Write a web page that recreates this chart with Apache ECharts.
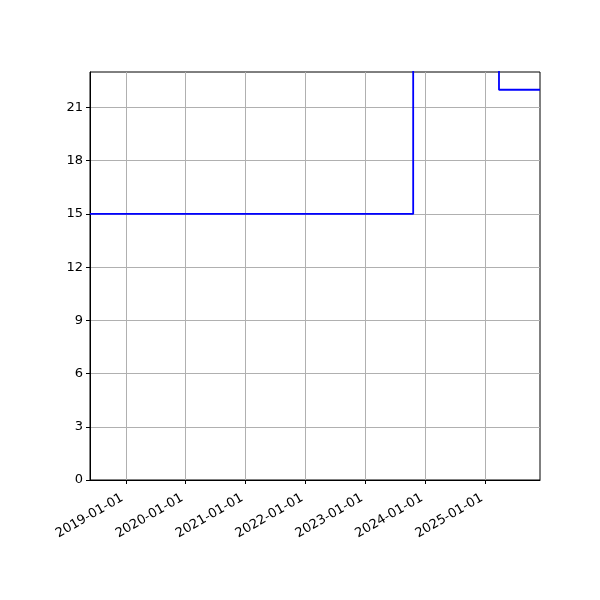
<!DOCTYPE html>
<html>
<head>
<meta charset="utf-8">
<script src="https://cdn.jsdelivr.net/npm/echarts@6/dist/echarts.min.js"></script>
<style>html,body{margin:0;padding:0;background:#fff}#c{width:600px;height:600px}</style>
</head>
<body>
<div id="c"></div>
<script>
const dates = ['2018-05-28', '2023-10-19', '2025-03-25', '2025-11-30'];
const values = [15, 30, 22, 22];
const xTickLabels = ['2019-01-01', '2020-01-01', '2021-01-01', '2022-01-01', '2023-01-01', '2024-01-01', '2025-01-01'];
const yTicks = [0, 3, 6, 9, 12, 15, 18, 21];
const xMin = '2018-05-28', xMax = '2025-11-30';

const toTs = s => { const [y, m, d] = s.split('-').map(Number); return Date.UTC(y, m - 1, d); };
const pad = n => (n < 10 ? '0' : '') + n;
const fmt = ts => { const d = new Date(ts); return d.getUTCFullYear() + '-' + pad(d.getUTCMonth() + 1) + '-' + pad(d.getUTCDate()); };
const xTicks = xTickLabels.map(toTs);

const chart = echarts.init(document.getElementById('c'));
chart.setOption({
  animation: false,
  grid: { left: 90, right: 60, top: 72, bottom: 120, show: true, borderColor: '#000', borderWidth: 1, backgroundColor: 'transparent' },
  xAxis: {
    type: 'value', min: toTs(xMin), max: toTs(xMax),
    axisLine: { show: true, onZero: false, lineStyle: { color: '#000', width: 1 } },
    axisTick: { show: true, inside: false, length: 4, customValues: xTicks, lineStyle: { color: '#000' } },
    axisLabel: { customValues: xTicks, formatter: v => fmt(v), rotate: 30, color: '#000', fontFamily: 'DejaVu Sans', fontSize: 13, margin: 15, padding: [0, 4, 0, 0] },
    splitLine: { show: true, lineStyle: { color: '#b0b0b0', width: 1 } }
  },
  yAxis: {
    type: 'value', min: 0, max: 23, interval: 3,
    axisLine: { show: true, lineStyle: { color: '#000', width: 1 } },
    axisTick: { show: true, inside: false, length: 4, customValues: yTicks, lineStyle: { color: '#000' } },
    axisLabel: { customValues: yTicks, color: '#000', fontFamily: 'DejaVu Sans', fontSize: 13, margin: 7 },
    splitLine: { show: true, lineStyle: { color: '#b0b0b0', width: 1 } }
  },
  series: [{
    type: 'line', step: 'end', showSymbol: false, clip: true,
    data: dates.map((d, i) => [toTs(d), values[i]]),
    lineStyle: { color: '#0000ff', width: 1.8 }
  }]
});
</script>
</body>
</html>
